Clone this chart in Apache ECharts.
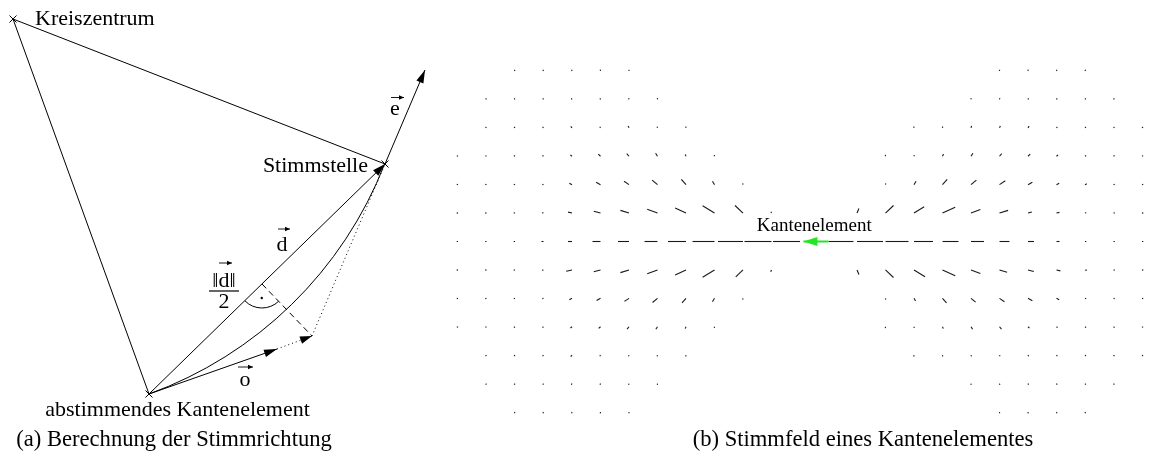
<!DOCTYPE html>
<html><head><meta charset="utf-8">
<script src="https://cdn.jsdelivr.net/npm/echarts@6/dist/echarts.min.js"></script>
<style>html,body{margin:0;padding:0;background:#fff}#c{width:1168px;height:462px}</style>
</head><body><div id="c"></div>
<script>
// ================= (a) Berechnung der Stimmrichtung =================
// diagram units, y pointing up, origin at the voting edge element
const kantenelementA = [0, 0];        // abstimmendes Kantenelement
const kreiszentrum   = [-136, 375];
const stimmstelle    = [236, 230];
const eTip           = [276, 324];    // tip of vector e
const oTip           = [128, 45];     // tip of vector o
const oProjected     = [163, 58];     // end of dotted arrow
const lotFuss        = [113, 110];    // foot of perpendicular on d (||d||/2)

const solidLines  = [[kreiszentrum, stimmstelle], [kreiszentrum, kantenelementA]];
const arrowLines  = [[kantenelementA, stimmstelle], [stimmstelle, eTip], [kantenelementA, oTip]];
const dottedArrow = [[oTip, oProjected]];
const dottedLines = [[oProjected, stimmstelle]];
const dashedLines = [[lotFuss, oProjected]];
const crossPoints = [kreiszentrum, stimmstelle, kantenelementA];

const labelTexts   = ['Kreiszentrum', 'Stimmstelle', 'e', 'd', '\u2016d\u2016', '2', 'o', 'abstimmendes Kantenelement'];
const labelAnchors = [[-114, 375], [219, 228], [246, 285], [133, 149], [75, 113], [75, 92], [96, 14], [28.5, -16]];
const labelAlign   = ['left', 'right', 'center', 'center', 'center', 'center', 'center', 'center'];
const vectorMarks  = [[242, 296.5, 255, 296.5], [129, 165, 141, 165], [70, 131, 83, 131], [89, 27, 104, 27]];
const fractionBar  = [[60, 103, 90, 103]];

// ================= (b) Stimmfeld eines Kantenelementes =================
// vote strength at each grid node (columns 0..24, rows 0..12 from top); null = no vote
const _ = null;
const fieldRows = [
  [_,_,1,1,1,1,1,_,_,_,_,_,_,_,_,_,_,_,_,1,1,1,1,_,_],
  [_,1,1,1,1,1,1,1,_,_,_,_,_,_,_,_,_,_,1,1,1,1,1,1,_],
  [_,1,1,1,2,1,2,1,1,_,_,_,_,_,_,_,1,1,2,2,2,1,1,1,1],
  [1,1,1,1,2,3,3.5,3.5,2,1,_,_,_,_,_,1,1,2.5,3.5,3.5,3,2,1,1,1],
  [1,1,1,1,3,5,6,7,7,4,1,_,_,_,_,1,4,7,7,7,5,3,2,1,1],
  [1,1,1,1.5,4,7,9,11,12,14,11,1.5,_,_,5,11,12,14,10,9,4,3,1,1,1],
  [1,1,1,2,4,8,11,13,18,22,25,27,27,25,26,23,19,16,13,10,6,3,1,1,1],
  [1,1,1,1.5,6,7,9,11,12,14,10,2,_,_,5,11,13,14,10,8,6,4,2,1,1],
  [1,1,1,1,3,4.5,5.5,6.5,6,4,1,_,_,_,_,1,3,6,6,6,5,3,1,1,1],
  [1,1,1,1,2,2.5,3,3,2,1,_,_,_,_,_,1,1,2,3,3,2,1,1,1,1],
  [_,1,1,1,2,1,1,1,1,_,_,_,_,_,_,_,1,1,1,1,1,1,1,1,1],
  [_,1,1,1,1,1,1,1,_,_,_,_,_,_,_,_,_,_,1,1,1,1,1,1,_],
  [_,_,1,1,1,1,1,_,_,_,_,_,_,_,_,_,_,_,_,1,1,1,1,_,_]
];
const edgeCenter  = [12.5, 6];
const edgeElement = [[13, 6, 12.12, 6]];
const edgeLabel   = 'Kantenelement';
const edgeLabelAt = [[12.5, 5.45]];
const STRENGTH_TO_CELLS = 1 / 28.5;

const captionA = '(a) Berechnung der Stimmrichtung';
const captionB = '(b) Stimmfeld eines Kantenelementes';

// ---------------------------------------------------------------
const SERIF = '"Liberation Serif", "Times New Roman", serif';
const flat = pairs => pairs.map(p => [p[0][0], p[0][1], p[1][0], p[1][1]]);

function head(p1, p2, L, W, color) {
  const dx = p2[0] - p1[0], dy = p2[1] - p1[1], d = Math.hypot(dx, dy);
  const ux = dx / d, uy = dy / d, bx = p2[0] - ux * L, by = p2[1] - uy * L;
  return { type: 'polygon', shape: { points: [[p2[0], p2[1]], [bx - uy * W, by + ux * W], [bx + uy * W, by - ux * W]] },
           style: { fill: color } };
}
function lineRender(opt) {
  return function (params, api) {
    const p1 = api.coord([api.value(0), api.value(1)]);
    const p2 = api.coord([api.value(2), api.value(3)]);
    const ch = [{ type: 'line', shape: { x1: p1[0], y1: p1[1], x2: p2[0], y2: p2[1] },
      style: { stroke: opt.color || '#000', lineWidth: opt.width || 1, lineDash: opt.dash || null, lineCap: opt.cap || 'butt' } }];
    if (opt.head) ch.push(head(p1, p2, opt.head[0], opt.head[1], opt.color || '#000'));
    return { type: 'group', children: ch };
  };
}
function lineSeries(data, opt, gi) {
  return { type: 'custom', coordinateSystem: 'cartesian2d', xAxisIndex: gi || 0, yAxisIndex: gi || 0,
           clip: false, silent: true, data: data, renderItem: lineRender(opt) };
}

const fieldData = [];
fieldRows.forEach((row, r) => row.forEach((v, c) => { if (v !== null) fieldData.push([c, r, v]); }));

const option = {
  animation: false,
  backgroundColor: '#fff',
  grid: [
    { left: 0, top: 0, width: 460, height: 462 },
    { left: 458, top: 71, width: 684, height: 341 }
  ],
  xAxis: [
    { gridIndex: 0, type: 'value', min: -149, max: 311, show: false },
    { gridIndex: 1, type: 'value', min: 0, max: 24, show: false }
  ],
  yAxis: [
    { gridIndex: 0, type: 'value', min: -68, max: 394, show: false },
    { gridIndex: 1, type: 'value', min: 0, max: 12, inverse: true, show: false }
  ],
  series: [
    lineSeries(flat(solidLines), { width: 1 }),
    lineSeries(flat(arrowLines), { width: 1, head: [13, 3.8] }),
    lineSeries(flat(dottedArrow), { width: 1, dash: [1, 3], head: [12, 3.8] }),
    lineSeries(flat(dottedLines), { width: 1, dash: [1, 3] }),
    lineSeries(flat(dashedLines), { width: 1, dash: [6, 4] }),
    lineSeries(vectorMarks, { width: 0.9, head: [5, 2.2] }),
    lineSeries(fractionBar, { width: 1.2 }),
    { // circle arc around Kreiszentrum from edge element to Stimmstelle
      type: 'custom', coordinateSystem: 'cartesian2d', clip: false, silent: true,
      data: [[kreiszentrum[0], kreiszentrum[1], kantenelementA[0], kantenelementA[1], stimmstelle[0], stimmstelle[1]]],
      renderItem(params, api) {
        const k = api.coord([api.value(0), api.value(1)]);
        const a = api.coord([api.value(2), api.value(3)]);
        const s = api.coord([api.value(4), api.value(5)]);
        const r = Math.hypot(a[0] - k[0], a[1] - k[1]);
        return { type: 'arc', shape: { cx: k[0], cy: k[1], r: r,
                 startAngle: Math.atan2(s[1] - k[1], s[0] - k[0]), endAngle: Math.atan2(a[1] - k[1], a[0] - k[0]), clockwise: true },
                 style: { stroke: '#000', lineWidth: 1, fill: null } };
      }
    },
    { // right angle mark at the foot
      type: 'custom', coordinateSystem: 'cartesian2d', clip: false, silent: true,
      data: [[lotFuss[0], lotFuss[1], kantenelementA[0], kantenelementA[1], oProjected[0], oProjected[1]]],
      renderItem(params, api) {
        const f = api.coord([api.value(0), api.value(1)]);
        const a = api.coord([api.value(2), api.value(3)]);
        const p = api.coord([api.value(4), api.value(5)]);
        const aa = Math.atan2(a[1] - f[1], a[0] - f[0]), ap = Math.atan2(p[1] - f[1], p[0] - f[0]);
        const mid = (aa + ap) / 2;
        return { type: 'group', children: [
          { type: 'arc', shape: { cx: f[0], cy: f[1], r: 24, startAngle: ap, endAngle: aa, clockwise: true },
            style: { stroke: '#000', lineWidth: 1, fill: null } },
          { type: 'circle', shape: { cx: f[0] + Math.cos(mid) * 14, cy: f[1] + Math.sin(mid) * 14, r: 1.2 }, style: { fill: '#000' } }
        ] };
      }
    },
    { // crosses
      type: 'custom', coordinateSystem: 'cartesian2d', clip: false, silent: true, data: crossPoints,
      renderItem(params, api) {
        const p = api.coord([api.value(0), api.value(1)]), h = 3.5;
        return { type: 'group', children: [
          { type: 'line', shape: { x1: p[0] - h, y1: p[1] - h, x2: p[0] + h, y2: p[1] + h }, style: { stroke: '#000', lineWidth: 1 } },
          { type: 'line', shape: { x1: p[0] - h, y1: p[1] + h, x2: p[0] + h, y2: p[1] - h }, style: { stroke: '#000', lineWidth: 1 } }
        ] };
      }
    },
    { // labels of (a)
      type: 'custom', coordinateSystem: 'cartesian2d', clip: false, silent: true, data: labelAnchors,
      renderItem(params, api) {
        const p = api.coord([api.value(0), api.value(1)]);
        return { type: 'text', style: { x: p[0], y: p[1], text: labelTexts[params.dataIndex], textAlign: labelAlign[params.dataIndex],
                 textVerticalAlign: 'middle', font: '22px ' + SERIF, fill: '#000' } };
      }
    },
    { // vote field
      type: 'custom', coordinateSystem: 'cartesian2d', xAxisIndex: 1, yAxisIndex: 1, clip: false, silent: true, data: fieldData,
      renderItem(params, api) {
        const p = api.coord([api.value(0), api.value(1)]);
        const o = api.coord(edgeCenter);
        const unit = api.size([1, 0])[0];
        const dx = p[0] - o[0], dy = p[1] - o[1];
        const phi = 2 * Math.atan(dy / dx), s = Math.sign(dx);
        const len = Math.max(api.value(2) * STRENGTH_TO_CELLS * unit, 1.3);
        return { type: 'line', shape: { x1: p[0], y1: p[1], x2: p[0] + s * Math.cos(phi) * len, y2: p[1] + s * Math.sin(phi) * len },
                 style: { stroke: '#1a1a1a', lineWidth: 1.1 } };
      }
    },
    lineSeries(edgeElement, { width: 2, color: '#22e622', head: [14, 4.5] }, 1),
    {
      type: 'custom', coordinateSystem: 'cartesian2d', xAxisIndex: 1, yAxisIndex: 1, clip: false, silent: true, data: edgeLabelAt,
      renderItem(params, api) {
        const p = api.coord([api.value(0), api.value(1)]);
        return { type: 'text', style: { x: p[0], y: p[1], text: edgeLabel, textAlign: 'center', textVerticalAlign: 'middle',
                 font: '19px ' + SERIF, fill: '#000' } };
      }
    }
  ],
  graphic: [
    { type: 'text', style: { x: 174, y: 440, text: captionA, textAlign: 'center', textVerticalAlign: 'middle', font: '22.6px ' + SERIF, fill: '#000' } },
    { type: 'text', style: { x: 863, y: 440, text: captionB, textAlign: 'center', textVerticalAlign: 'middle', font: '22.6px ' + SERIF, fill: '#000' } }
  ]
};
const chart = echarts.init(document.getElementById('c'), null, { renderer: 'canvas' });
chart.setOption(option);
</script>
</body></html>
